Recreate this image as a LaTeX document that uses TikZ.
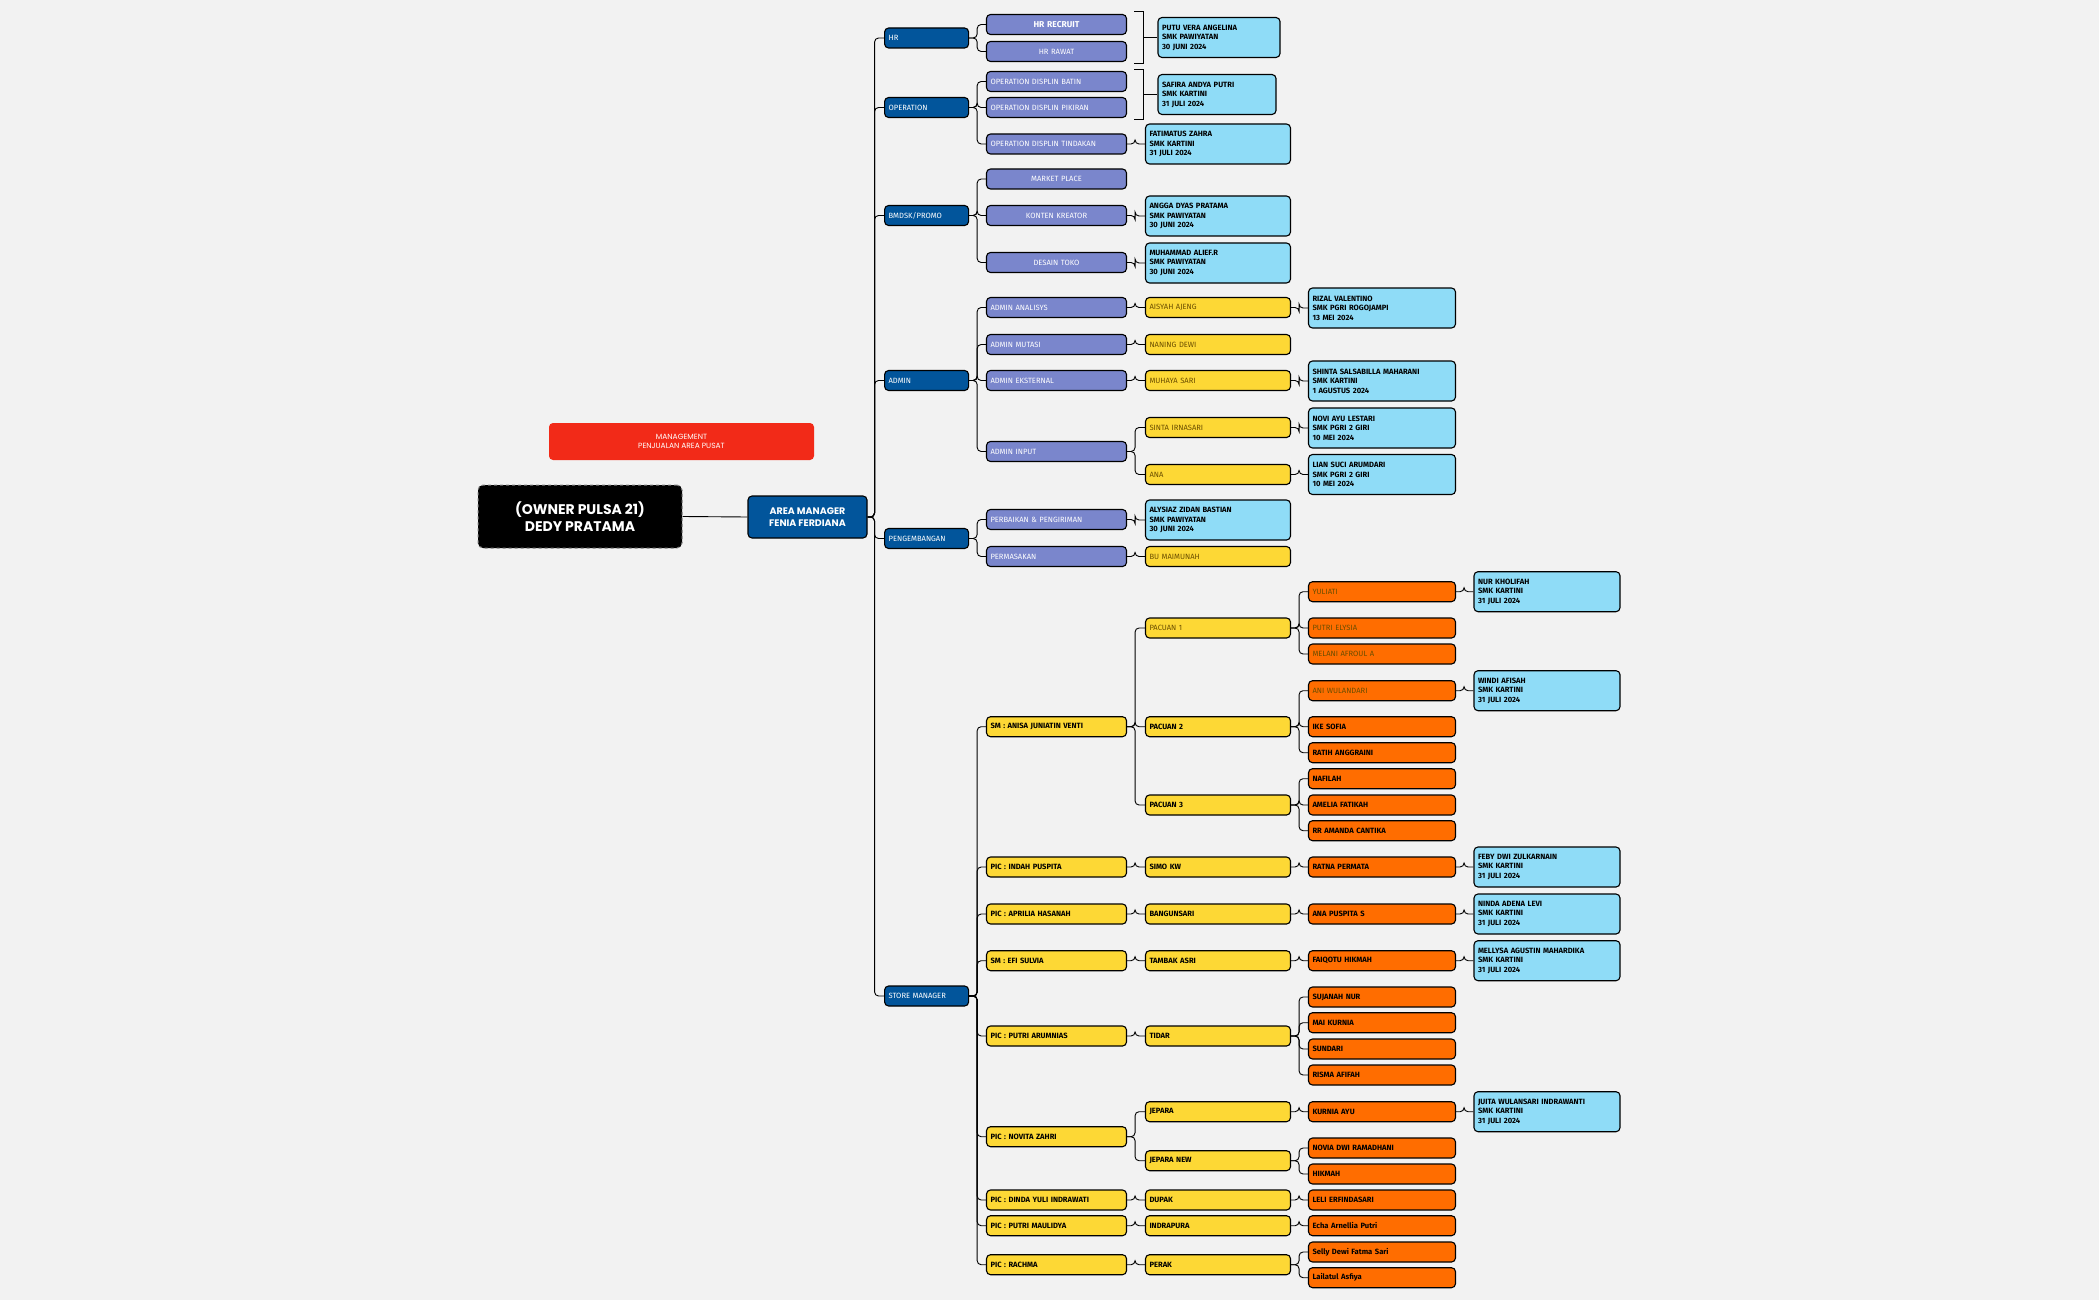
\documentclass[tikz,border=0pt]{standalone}
\usepackage{fontspec}
\setmainfont{Fira Sans}
\newfontfamily\pop{Poppins}
\begin{document}
\definecolor{bg}{HTML}{F2F2F2}
\definecolor{dblue}{HTML}{02559B}
\definecolor{purp}{HTML}{7A86CC}
\definecolor{yel}{HTML}{FDD835}
\definecolor{org}{HTML}{FF6D00}
\definecolor{lblue}{HTML}{8FDCF7}
\definecolor{redb}{HTML}{F22A18}
\definecolor{brn}{HTML}{6B4E00}
\begin{tikzpicture}[x=1pt,y=-1pt,
 box/.style={draw=black,line width=1.1pt,rounded corners=4pt,minimum height=20pt,inner xsep=4pt,inner ysep=1pt,font=\fontsize{7.6}{9}\selectfont,anchor=center},
 l1/.style={box,fill=dblue,text=white,text width=76pt,align=left},
 l2/.style={box,fill=purp,text=white,text width=132pt,align=left},
 c/.style={align=center},
 ys/.style={box,fill=yel,text=black,text width=137pt,align=left,font=\fontsize{7.6}{9}\bfseries\selectfont},
 ya/.style={box,fill=yel,text=brn,text width=137pt,align=left},
 y2/.style={ys,text width=132pt},
 os/.style={box,fill=org,text=black,text width=139pt,align=left,font=\fontsize{7.6}{9}\bfseries\selectfont},
 ol/.style={box,fill=org,text=brn,text width=139pt,align=left},
 inf/.style={box,fill=lblue,text=black,align=left,minimum height=40pt,font=\fontsize{7.6}{9.5}\bfseries\selectfont},
 i3/.style={inf,text width=137pt},
 i4/.style={inf,text width=139pt},
 conn/.style={draw=black,line width=0.9pt,rounded corners=4pt}]
\fill[bg] (0,0) rectangle (2099,1300);
\useasboundingbox (0,0) rectangle (2099,1300);
% root
\node[draw=gray,dashed,line width=1pt,fill=black,rounded corners=5pt,minimum width=204pt,minimum height=63pt,text=white,align=center,font=\pop\bfseries\fontsize{14}{17}\selectfont] (own) at (580,516.5) {(OWNER PULSA 21)\\DEDY PRATAMA};
\node[fill=redb,rounded corners=4pt,minimum width=265pt,minimum height=37pt,text=white,align=center,font=\pop\fontsize{7.5}{9.5}\selectfont] (red) at (681.5,441.5) {MANAGEMENT\\PENJUALAN AREA PUSAT};
\node[draw=black,line width=1.1pt,fill=dblue,rounded corners=4pt,minimum width=119pt,minimum height=42pt,text=white,align=center,font=\pop\bfseries\fontsize{9.5}{12}\selectfont] (area) at (807.5,517) {AREA MANAGER\\FENIA FERDIANA};
% level 1
\node[l1] (hr) at (926.6,38) {HR};
\node[l1] (op) at (926.6,107.5) {OPERATION};
\node[l1] (bm) at (926.6,215.5) {BMDSK/PROMO};
\node[l1] (ad) at (926.6,380.5) {ADMIN};
\node[l1] (pg) at (926.6,538.5) {PENGEMBANGAN};
\node[l1] (st) at (926.6,996) {STORE MANAGER};
% level 2
\node[l2,c,font=\fontsize{8.5}{9}\bfseries\selectfont] (hrr) at (1056.5,24.5) {HR RECRUIT};
\node[l2,c] (hrw) at (1056.5,51.5) {HR RAWAT};
\node[l2] (ob) at (1056.5,81.5) {OPERATION DISPLIN BATIN};
\node[l2] (opk) at (1056.5,107.5) {OPERATION DISPLIN PIKIRAN};
\node[l2] (ot) at (1056.5,144) {OPERATION DISPLIN TINDAKAN};
\node[l2,c] (mp) at (1056.5,179) {MARKET PLACE};
\node[l2,c] (kk) at (1056.5,215.5) {KONTEN KREATOR};
\node[l2,c] (dt) at (1056.5,262.5) {DESAIN TOKO};
\node[l2] (aa) at (1056.5,307.5) {ADMIN ANALISYS};
\node[l2] (am) at (1056.5,344.5) {ADMIN MUTASI};
\node[l2] (ae) at (1056.5,380.5) {ADMIN EKSTERNAL};
\node[l2] (ai) at (1056.5,451.5) {ADMIN INPUT};
\node[l2] (pb) at (1056.5,519.5) {PERBAIKAN \& PENGIRIMAN};
\node[l2] (pm) at (1056.5,556.5) {PERMASAKAN};
\node[y2] (sa) at (1056.5,726.7) {SM : ANISA JUNIATIN VENTI};
\node[y2] (ip) at (1056.5,867) {PIC : INDAH PUSPITA};
\node[y2] (ah) at (1056.5,914) {PIC : APRILIA HASANAH};
\node[y2] (es) at (1056.5,960.7) {SM : EFI SULVIA};
\node[y2] (pa) at (1056.5,1036) {PIC : PUTRI ARUMNIAS};
\node[y2] (nz) at (1056.5,1136.7) {PIC : NOVITA ZAHRI};
\node[y2] (dy) at (1056.5,1200) {PIC : DINDA YULI INDRAWATI};
\node[y2] (pmau) at (1056.5,1225.7) {PIC : PUTRI MAULIDYA};
\node[y2] (ra) at (1056.5,1264.7) {PIC : RACHMA};
% info beside brackets
\node[inf,text width=114pt] (putu) at (1219,37.5) {PUTU VERA ANGELINA\\SMK PAWIYATAN\\30 JUNI 2024};
\node[inf,text width=110pt] (saf) at (1217,94.5) {SAFIRA ANDYA PUTRI\\SMK KARTINI\\31 JULI 2024};
% level 3
\node[i3] (fz) at (1218,144) {FATIMATUS ZAHRA\\SMK KARTINI\\31 JULI 2024};
\node[i3] (ag) at (1218,216) {ANGGA DYAS PRATAMA\\SMK PAWIYATAN\\30 JUNI 2024};
\node[i3] (ma) at (1218,263) {MUHAMMAD ALIEF.R\\SMK PAWIYATAN\\30 JUNI 2024};
\node[ya] (aj) at (1218,307.5) {AISYAH AJENG};
\node[ya] (nd) at (1218,344.5) {NANING DEWI};
\node[ya] (ms) at (1218,380.5) {MUHAYA SARI};
\node[ya] (si) at (1218,427.5) {SINTA IRNASARI};
\node[ya] (an) at (1218,474.5) {ANA};
\node[i3] (az) at (1218,520) {ALYSIAZ ZIDAN BASTIAN\\SMK PAWIYATAN\\30 JUNI 2024};
\node[ya] (bmu) at (1218,556.5) {BU MAIMUNAH};
\node[ya] (p1) at (1218,628) {PACUAN 1};
\node[ys] (p2) at (1218,726.7) {PACUAN 2};
\node[ys] (p3) at (1218,805) {PACUAN 3};
\node[ys] (simo) at (1218,867) {SIMO KW};
\node[ys] (bang) at (1218,914) {BANGUNSARI};
\node[ys] (tam) at (1218,960.7) {TAMBAK ASRI};
\node[ys] (tid) at (1218,1036) {TIDAR};
\node[ys] (jep) at (1218,1111.7) {JEPARA};
\node[ys] (jepn) at (1218,1160.7) {JEPARA NEW};
\node[ys] (dup) at (1218,1200) {DUPAK};
\node[ys] (ind) at (1218,1225.7) {INDRAPURA};
\node[ys] (per) at (1218,1264.7) {PERAK};
% level 4
\node[i4] (rz) at (1382,308) {RIZAL VALENTINO\\SMK PGRI ROGOJAMPI\\13 MEI 2024};
\node[i4] (sh) at (1382,381) {SHINTA SALSABILLA MAHARANI\\SMK KARTINI\\1 AGUSTUS 2024};
\node[i4] (nv) at (1382,428) {NOVI AYU LESTARI\\SMK PGRI 2 GIRI\\10 MEI 2024};
\node[i4] (li) at (1382,474.5) {LIAN SUCI ARUMDARI\\SMK PGRI 2 GIRI\\10 MEI 2024};
\node[ol] (yul) at (1382,591.7) {YULIATI};
\node[ol] (pe) at (1382,628) {PUTRI ELYSIA};
\node[ol] (mel) at (1382,654) {MELANI AFROUL A};
\node[ol] (ani) at (1382,690.7) {ANI WULANDARI};
\node[os] (ike) at (1382,726.7) {IKE SOFIA};
\node[os] (rat) at (1382,752.7) {RATIH ANGGRAINI};
\node[os] (naf) at (1382,778.7) {NAFILAH};
\node[os] (ame) at (1382,805) {AMELIA FATIKAH};
\node[os] (rr) at (1382,830.7) {RR AMANDA CANTIKA};
\node[os] (rp) at (1382,867) {RATNA PERMATA};
\node[os] (aps) at (1382,914) {ANA PUSPITA S};
\node[os] (fh) at (1382,960.7) {FAIQOTU HIKMAH};
\node[os] (suj) at (1382,997) {SUJANAH NUR};
\node[os] (mai) at (1382,1022.7) {MAI KURNIA};
\node[os] (sun) at (1382,1049) {SUNDARI};
\node[os] (ris) at (1382,1075) {RISMA AFIFAH};
\node[os] (ku) at (1382,1111.7) {KURNIA AYU};
\node[os] (nov) at (1382,1148) {NOVIA DWI RAMADHANI};
\node[os] (hik) at (1382,1174) {HIKMAH};
\node[os] (leli) at (1382,1200) {LELI ERFINDASARI};
\node[os] (echa) at (1382,1225.7) {Echa Arnellia Putri};
\node[os] (sel) at (1382,1252) {Selly Dewi Fatma Sari};
\node[os] (lai) at (1382,1277.7) {Lailatul Asfiya};
% level 5
\node[i4,text width=138pt] (nur) at (1547,591.7) {NUR KHOLIFAH\\SMK KARTINI\\31 JULI 2024};
\node[i4,text width=138pt] (win) at (1547,690.7) {WINDI AFISAH\\SMK KARTINI\\31 JULI 2024};
\node[i4,text width=138pt] (feb) at (1547,867) {FEBY DWI ZULKARNAIN\\SMK KARTINI\\31 JULI 2024};
\node[i4,text width=138pt] (nin) at (1547,914) {NINDA ADENA LEVI\\SMK KARTINI\\31 JULI 2024};
\node[i4,text width=138pt] (mel2) at (1547,960.7) {MELLYSA AGUSTIN MAHARDIKA\\SMK KARTINI\\31 JULI 2024};
\node[i4,text width=138pt] (jui) at (1547,1111.7) {JUITA WULANSARI INDRAWANTI\\SMK KARTINI\\31 JULI 2024};
% connectors
\draw[conn] (own.east) -- (area.west);
\foreach \b in {hr,op,bm,ad,pg,st} \draw[conn] (area.east) -- ++(7,0) |- (\b.west);
\foreach \a/\b in {hr/hrr,hr/hrw,op/ob,op/opk,op/ot,bm/mp,bm/kk,bm/dt,ad/aa,ad/am,ad/ae,ad/ai,pg/pb,pg/pm,
 st/sa,st/ip,st/ah,st/es,st/pa,st/nz,st/dy,st/pmau,st/ra,
 ot/fz,kk/ag,dt/ma,aa/aj,am/nd,ae/ms,ai/si,ai/an,pb/az,pm/bmu,
 aj/rz,ms/sh,si/nv,an/li,
 sa/p1,sa/p2,sa/p3,ip/simo,ah/bang,es/tam,pa/tid,nz/jep,nz/jepn,dy/dup,pmau/ind,ra/per,
 p1/yul,p1/pe,p1/mel,p2/ani,p2/ike,p2/rat,p3/naf,p3/ame,p3/rr,simo/rp,bang/aps,tam/fh,
 tid/suj,tid/mai,tid/sun,tid/ris,jep/ku,jepn/nov,jepn/hik,dup/leli,ind/echa,per/sel,per/lai,
 yul/nur,ani/win,rp/feb,aps/nin,fh/mel2,ku/jui}
 \draw[conn] (\a.east) -- ++(8,0) |- (\b.west);
% brackets
\coordinate (b1a) at (1134,11); \coordinate (b1b) at (1134,63);
\coordinate (b2a) at (1134,69); \coordinate (b2b) at (1134,119);
\draw[line width=0.9pt] (b1a) -- ++(9,0) coordinate (b1t) |- (b1b);
\draw[line width=0.9pt] (b1t |- putu.west) -- (putu.west);
\draw[line width=0.9pt] (b2a) -- ++(9,0) coordinate (b2t) |- (b2b);
\draw[line width=0.9pt] (b2t |- saf.west) -- (saf.west);
\end{tikzpicture}
\end{document}
